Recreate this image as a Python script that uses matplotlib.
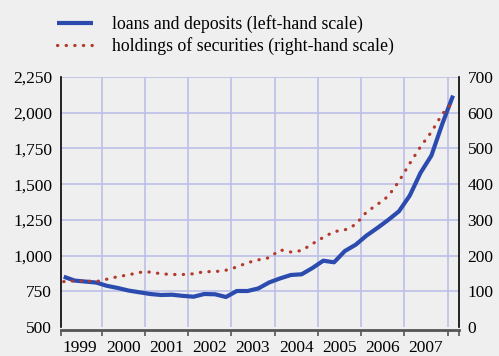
import numpy as np
import matplotlib
matplotlib.use('Agg')
import matplotlib.pyplot as plt

# quarterly observations, 1999 Q1 - 2008 Q1 (fractional year)
quarters = [1999.125 + 0.25 * i for i in range(37)]

# loans and deposits (left-hand scale)
loans = [852, 825, 818, 811, 788, 773, 755, 743, 731, 724,
         726, 718, 712, 731, 729, 710, 752, 752, 770, 812,
         840, 864, 869, 913, 964, 953, 1032, 1076, 1140, 1193,
         1249, 1310, 1420, 1580, 1700, 1920, 2120]

# holdings of securities (right-hand scale)
securities = [127, 129, 129, 127, 134, 141, 146, 153, 154, 149,
              147, 147, 149, 155, 155, 159, 168, 180, 188, 194,
              216, 210, 214, 233, 251, 267, 272, 287, 322, 343,
              366, 408, 458, 505, 546, 596, 630]

years = list(range(1999, 2008))
left_ticks = [500, 750, 1000, 1250, 1500, 1750, 2000, 2250]
right_ticks = [0, 100, 200, 300, 400, 500, 600, 700]

bg = '#efefef'
grid_col = '#bcc0e6'
blue = '#2b4cae'
red = '#b3392c'

plt.rcParams['font.family'] = ['Liberation Serif', 'DejaVu Serif']

fig = plt.figure(figsize=(4.99, 3.56), dpi=100, facecolor=bg)
ax = fig.add_axes([60.5 / 499, 29 / 356, (459.3 - 60.5) / 499, 250 / 356])
ax.set_facecolor(bg)
ax2 = ax.twinx()

l1, = ax.plot(quarters, loans, color=blue, lw=3.0, solid_capstyle='butt',
              label='loans and deposits (left-hand scale)')
l2, = ax2.plot(quarters, securities, color=red, lw=2.3,
               linestyle=(0, (0.1, 2.6)), dash_capstyle='round',
               label='holdings of securities (right-hand scale)')

ax.set_xlim(1999.05, 2008.27)
ax.set_ylim(500, 2250)
ax2.set_ylim(0, 700)

ax.set_yticks(left_ticks)
ax.set_yticklabels(['{:,}'.format(t) for t in left_ticks])
ax2.set_yticks(right_ticks)
ax2.set_yticklabels([str(t) for t in right_ticks])

# year boundaries as major ticks, labels at mid-year
ax.set_xticks([1999.05] + list(range(2000, 2009)) + [2008.27])
ax.set_xticklabels([])
ax.set_xticks([y + 0.5 for y in years], minor=True)
ax.set_xticklabels([str(y) for y in years], minor=True)
ax.tick_params(axis='x', which='minor', length=0, pad=7, labelsize=12.5)
ax.tick_params(axis='x', which='major', length=4, width=1.2, color='#555555',
               direction='out')
ax.tick_params(axis='y', length=0, pad=6, labelsize=12.5)
ax2.tick_params(axis='y', length=0, pad=6, labelsize=12.5)

# grid
for y in left_ticks[1:]:
    ax.axhline(y, color=grid_col, lw=1.2, zorder=0)
for x in range(2000, 2009):
    ax.axvline(x, color=grid_col, lw=1.2, zorder=0)

for a in (ax, ax2):
    for s in a.spines.values():
        s.set_visible(False)
ax.spines['left'].set_visible(True)
ax.spines['left'].set_color('black')
ax.spines['left'].set_linewidth(1.2)
ax2.spines['right'].set_visible(True)
ax2.spines['right'].set_color('black')
ax2.spines['right'].set_linewidth(1.2)
ax.spines['bottom'].set_visible(True)
ax.spines['bottom'].set_position(('outward', 2))
ax.spines['bottom'].set_color('#555555')
ax.spines['bottom'].set_linewidth(2)

fig.legend(handles=[l1, l2], loc='upper left', bbox_to_anchor=(57 / 499, 1 - 15 / 356),
           frameon=False, fontsize=12.8, handlelength=2.0, handletextpad=1.1,
           borderpad=0, borderaxespad=0, labelspacing=0.22)

fig.savefig('out.png', dpi=100, facecolor=bg)
